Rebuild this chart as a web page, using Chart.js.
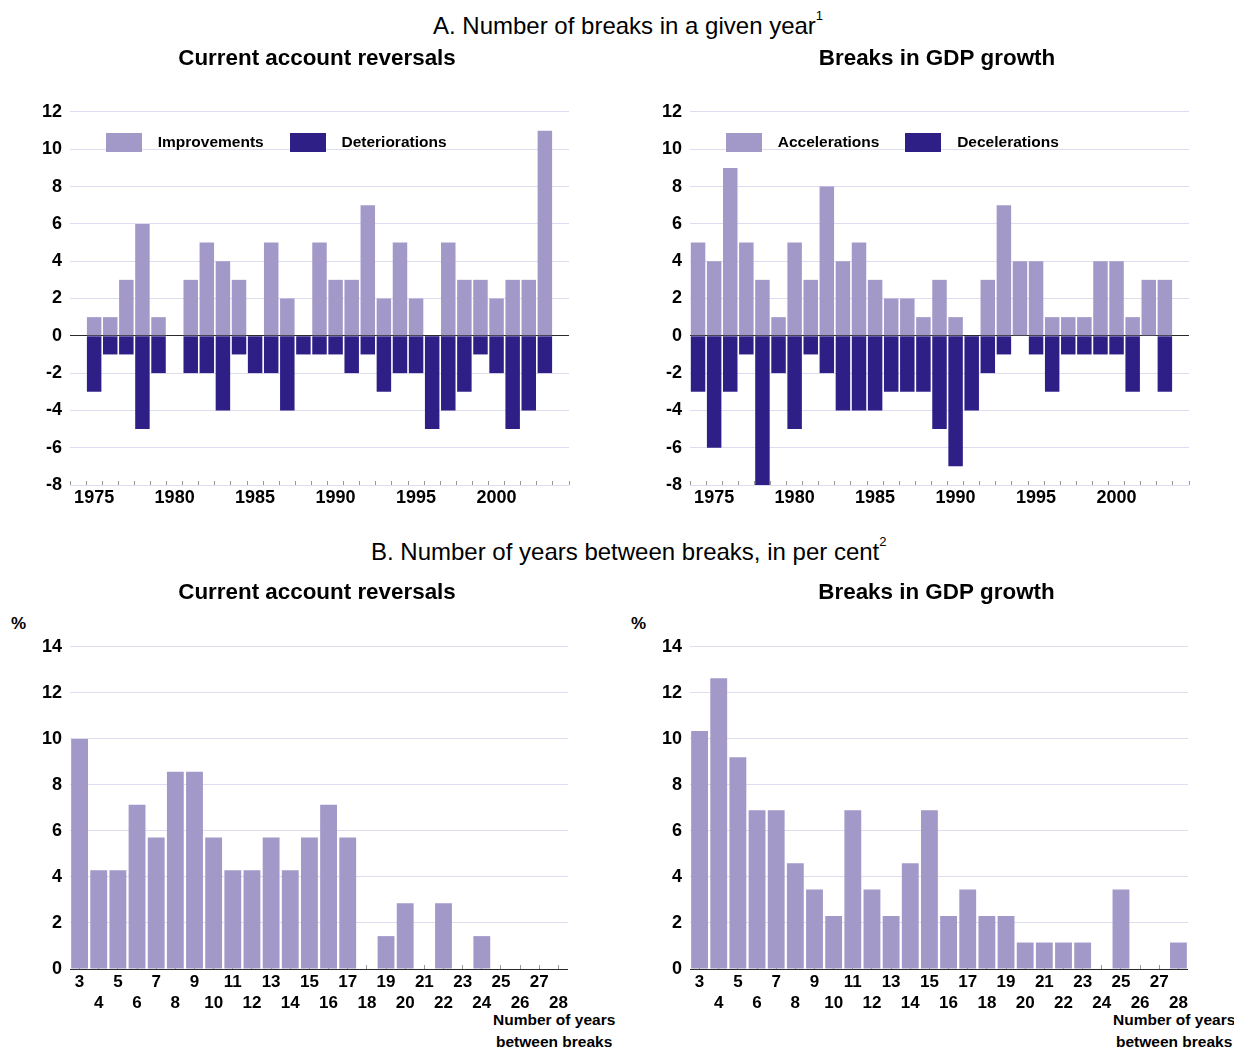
<!DOCTYPE html>
<html>
<head>
<meta charset="utf-8">
<script src="https://cdn.jsdelivr.net/npm/chart.js@4.4.1/dist/chart.umd.min.js"></script>
<style>
  html, body { margin: 0; padding: 0; background: #fff; }
  body { width: 1234px; height: 1048px; position: relative; overflow: hidden;
         font-family: 'Liberation Sans', Arial, Helvetica, sans-serif; color: #000; }
  .box { position: absolute; }
  .txt { position: absolute; white-space: nowrap; }
  .sect { font-size: 24px; font-weight: normal; }
  .sect sup { font-size: 13px; vertical-align: top; position: relative; top: -4px; }
  .pct { font-size: 17px; font-weight: bold; }
  .xt { font-size: 15.5px; font-weight: bold; line-height: 22px; text-align: center; }
</style>
</head>
<body>
<div class="txt sect" style="left:433px; top:12px;">A. Number of breaks in a given year<sup>1</sup></div>
<div class="txt sect" style="left:371px; top:538px;">B. Number of years between breaks, in per cent<sup>2</sup></div>
<div class="txt pct" style="left:11px; top:614px;">%</div>
<div class="txt pct" style="left:631px; top:614px;">%</div>
<div class="txt xt" style="left:493px; top:1009px;">Number of years<br>between breaks</div>
<div class="txt xt" style="left:1113px; top:1009px;">Number of years<br>between breaks</div>

<div class="box" style="left:0px; top:40px; width:634px; height:475px;"><canvas id="c1"></canvas></div>
<div class="box" style="left:640px; top:40px; width:594px; height:475px;"><canvas id="c2"></canvas></div>
<div class="box" style="left:0px; top:570px; width:634px; height:449px;"><canvas id="c3"></canvas></div>
<div class="box" style="left:640px; top:570px; width:594px; height:449px;"><canvas id="c4"></canvas></div>

<script>
// ---- Panel A data (one slot per year, 1974-2004) ----
const years = ['1974','1975','1976','1977','1978','1979','1980','1981','1982','1983','1984',
  '1985','1986','1987','1988','1989','1990','1991','1992','1993','1994','1995','1996',
  '1997','1998','1999','2000','2001','2002','2003','2004'];
const improvements   = [null,1,1,3,6,1,null,3,5,4,3,0,5,2,0,5,3,3,7,2,5,2,0,5,3,3,2,3,3,11,null];
const deteriorations = [null,-3,-1,-1,-5,-2,null,-2,-2,-4,-1,-2,-2,-4,-1,-1,-1,-2,-1,-3,-2,-2,-5,-4,-3,-1,-2,-5,-4,-2,null];
const accelerations  = [5,4,9,5,3,1,5,3,8,4,5,3,2,2,1,3,1,0,3,7,4,4,1,1,1,4,4,1,3,3,null];
const decelerations  = [-3,-6,-3,-1,-8,-2,-5,-1,-2,-4,-4,-4,-3,-3,-3,-5,-7,-4,-2,-1,0,-1,-3,-1,-1,-1,-1,-3,0,-3,null];
const yearTickLabels = ['1975','1980','1985','1990','1995','2000'];

// ---- Panel B data (years between breaks, per cent) ----
const gapYears = ['3','4','5','6','7','8','9','10','11','12','13','14','15','16','17','18',
  '19','20','21','22','23','24','25','26','27','28'];
const caGapPct  = [10.0,4.29,4.29,7.14,5.71,8.57,8.57,5.71,4.29,4.29,5.71,4.29,5.71,7.14,5.71,0,1.43,2.86,0,2.86,0,1.43,0,0,0,0];
const gdpGapPct = [10.34,12.64,9.2,6.9,6.9,4.6,3.45,2.3,6.9,3.45,2.3,4.6,6.9,2.3,3.45,2.3,2.3,1.15,1.15,1.15,1.15,0,3.45,0,0,1.15];

// ---- Styles ----
const LIGHT = '#a399c9';
const DARK = '#2e1f87';
const GRID = '#dedcf0';
const ZERO = '#2a2a2a';
const FONT = "'Liberation Sans', Arial, Helvetica, sans-serif";

Chart.defaults.font.family = FONT;
Chart.defaults.color = '#000';
Chart.defaults.animation = false;

// legend swatch (36 x 19) used as point style
function swatch(color) {
  const c = document.createElement('canvas');
  c.width = 36; c.height = 19;
  const g = c.getContext('2d');
  g.fillStyle = color;
  g.fillRect(0, 0, 36, 19);
  return c;
}
const SW_LIGHT = swatch(LIGHT);
const SW_DARK = swatch(DARK);

// Moves the library legend into the plot area, and shifts the title horizontally
const placeBoxes = {
  id: 'placeBoxes',
  afterLayout(chart, args, opts) {
    const lg = chart.legend;
    if (lg && opts.legend) {
      const w = lg.right - lg.left, h = lg.bottom - lg.top;
      lg.left = chart.chartArea.left + opts.legend.dx;
      lg.top = chart.chartArea.top + opts.legend.dy;
      lg.right = lg.left + w;
      lg.bottom = lg.top + h;
    }
    const tb = chart.titleBlock;
    if (tb && opts.titleDx) {
      tb.left += opts.titleDx;
      tb.right += opts.titleDx;
    }
  }
};

function yScale(min, max, width) {
  return {
    min, max, stacked: true,
    ticks: { stepSize: 2, padding: 8, font: { size: 18, weight: 'bold' }, color: '#000' },
    grid: {
      drawTicks: false,
      color: ctx => (ctx.tick && ctx.tick.value === 0) ? ZERO : GRID,
      lineWidth: 1
    },
    border: { display: false },
    afterFit(scale) { scale.width = width; }
  };
}

function panelA(id, labelsPos, labelsNeg, pos, neg, yWidth, padRight, titleDx, title) {
  new Chart(document.getElementById(id), {
    type: 'bar',
    data: {
      labels: years,
      datasets: [
        { label: labelsPos, data: pos, backgroundColor: LIGHT, borderWidth: 0, pointStyle: SW_LIGHT,
          barPercentage: 0.9, categoryPercentage: 1.0 },
        { label: labelsNeg, data: neg, backgroundColor: DARK, borderWidth: 0, pointStyle: SW_DARK,
          barPercentage: 0.9, categoryPercentage: 1.0 }
      ]
    },
    options: {
      responsive: true, maintainAspectRatio: false,
      layout: { padding: { left: 0, right: padRight, top: 0, bottom: 0 } },
      plugins: {
        title: { display: true, text: title, font: { size: 22.4, weight: 'bold', lineHeight: 1.2 }, color: '#000',
                 padding: { top: 5.5, bottom: -3.9 } },
        legend: {
          position: 'top', align: 'start',
          labels: { usePointStyle: true, pointStyleWidth: 52, boxHeight: 19, padding: 18, color: '#000',
                    font: { size: 15.5, weight: 'bold' } }
        },
        placeBoxes: { legend: { dx: 10, dy: 4.75 }, titleDx: titleDx },
        tooltip: { enabled: false }
      },
      scales: {
        x: {
          stacked: true,
          ticks: {
            autoSkip: false, maxRotation: 0, padding: 6, color: '#000',
            font: { size: 18, weight: 'bold' },
            callback(v) { const l = this.getLabelForValue(v); return yearTickLabels.includes(l) ? l : ''; }
          },
          grid: { drawOnChartArea: false, offset: true, tickLength: -4, color: '#999' },
          border: { display: false },
          afterFit(scale) { scale.height = 30; }
        },
        y: yScale(-8, 12, yWidth)
      }
    },
    plugins: [placeBoxes]
  });
}

function panelB(id, data, yWidth, padRight, titleDx, title) {
  new Chart(document.getElementById(id), {
    type: 'bar',
    data: {
      labels: gapYears,
      datasets: [
        { label: title, data: data, backgroundColor: LIGHT, borderWidth: 0,
          barPercentage: 0.88, categoryPercentage: 1.0 }
      ]
    },
    options: {
      responsive: true, maintainAspectRatio: false,
      layout: { padding: { left: 0, right: padRight, top: 0, bottom: 0 } },
      plugins: {
        title: { display: true, text: title, font: { size: 22.4, weight: 'bold', lineHeight: 1.2 }, color: '#000',
                 padding: { top: 9.5, bottom: 40.5 } },
        legend: { display: false },
        placeBoxes: { titleDx: titleDx },
        tooltip: { enabled: false }
      },
      scales: {
        x: {
          stacked: true,
          ticks: {
            autoSkip: false, maxRotation: 0, padding: 6.5, color: '#000',
            font: { size: 17, weight: 'bold', lineHeight: 1.24 },
            callback(v) { const l = this.getLabelForValue(v); return (parseInt(l, 10) % 2 === 0) ? ['', l] : l; }
          },
          grid: { drawOnChartArea: false, offset: false, tickLength: -4, color: '#999' },
          border: { display: false },
          afterFit(scale) { scale.height = 50; }
        },
        y: yScale(0, 14, yWidth)
      }
    },
    plugins: [placeBoxes]
  });
}

panelA('c1', 'Improvements', 'Deteriorations', improvements, deteriorations, 70, 65, 32.5, 'Current account reversals');
panelA('c2', 'Accelerations', 'Decelerations', accelerations, decelerations, 50, 45, 22.5, 'Breaks in GDP growth');
panelB('c3', caGapPct, 70, 66, 33, 'Current account reversals');
panelB('c4', gdpGapPct, 50, 46, 22.5, 'Breaks in GDP growth');
</script>
</body>
</html>
